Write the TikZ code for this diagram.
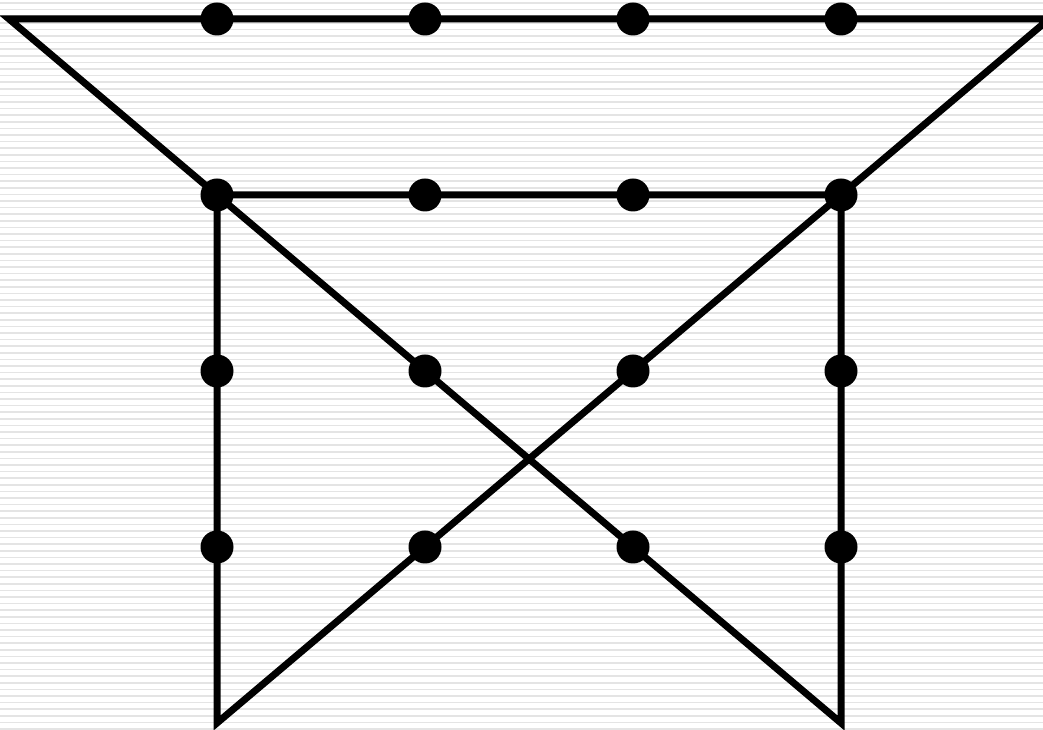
\documentclass[tikz,border=0pt]{standalone}
\usepackage{tikz}
\usetikzlibrary{calc}
\definecolor{stripeGray}{HTML}{E4E4E4}
\tikzset{
  pin/.style={circle, fill=black, inner sep=0pt, minimum size=33pt},
  stroke/.style={line width=7pt, black, line join=miter, line cap=butt},
  stripe/.style={draw=stripeGray, line width=1.5pt}
}

\begin{document}
\begin{tikzpicture}[x=208pt,y=176pt]
  % page size and the striped paper
  \useasboundingbox (-217pt,-7pt) rectangle (826pt,723pt);
  \foreach \k in {0,...,110}{
    \draw[stripe] (-217pt,723pt-\k*6.6pt-3pt) -- (826pt,723pt-\k*6.6pt-3pt);
  }
  % the 4x4 dots
  \foreach \i in {0,...,3}{
    \foreach \j in {1,...,4}{
      \node[pin] (d\i\j) at (\i,\j) {};
    }
  }
  % corners of the path
  \coordinate (tl) at (-1.0,4);
  \coordinate (tr) at (4.0,4);
  \coordinate (bl) at (0,0);
  \coordinate (br) at (3,0);
  % six strokes through all dots
  \draw[stroke] (tl.center) -- (tr.center) -- (d33.center) -- (bl.center)
    -- (d03.center) -- (d33.center) -- (br.center) -- (d03.center) -- cycle;
\end{tikzpicture}
\end{document}
